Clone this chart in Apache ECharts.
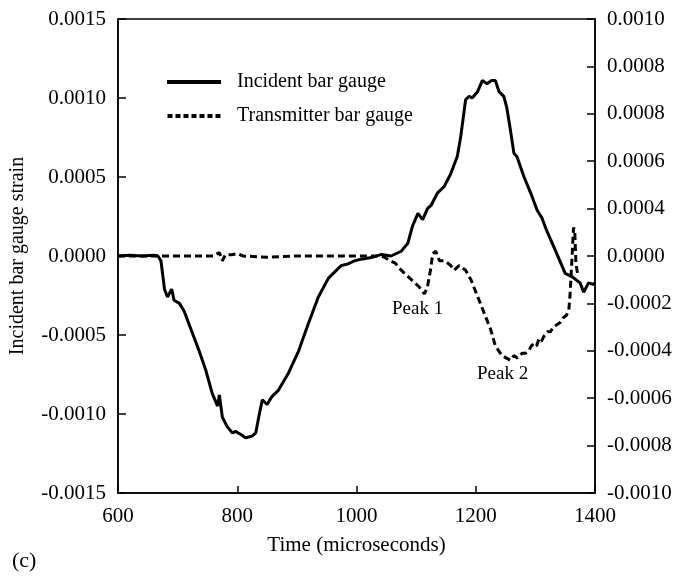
<!DOCTYPE html>
<html>
<head>
<meta charset="utf-8">
<script src="https://cdn.jsdelivr.net/npm/echarts@6/dist/echarts.min.js"></script>
<style>html,body{margin:0;padding:0;background:#fff}#c{width:676px;height:576px}</style>
</head>
<body>
<div id="c"></div>
<script>
// Incident bar gauge (left axis)
const incidentTime = [600,620,640,660,667,672,678,683,690,694,703,711,725,736,747,758,767,770,775,783,792,797,806,814,825,831,836,842,850,858,869,886,903,919,936,953,969,975,986,997,1008,1025,1042,1058,1075,1086,1094,1103,1111,1119,1125,1136,1147,1158,1169,1175,1183,1189,1194,1203,1211,1219,1226,1233,1239,1247,1252,1258,1264,1269,1281,1292,1303,1311,1319,1333,1350,1361,1375,1381,1389,1397,1400];
const incidentStrain = [0,0.000005,0,0.000005,0,-0.00003,-0.00021,-0.00026,-0.00021,-0.00028,-0.0003,-0.00035,-0.00049,-0.0006,-0.00072,-0.00087,-0.00095,-0.00088,-0.00102,-0.00108,-0.00112,-0.00111,-0.00113,-0.00115,-0.00114,-0.00112,-0.00102,-0.00091,-0.00094,-0.00089,-0.00085,-0.00074,-0.0006,-0.00043,-0.00026,-0.00014,-0.00008,-0.00006,-0.00005,-0.00003,-0.00002,-0.00001,0.00001,0,0.00003,0.00008,0.00019,0.00027,0.00023,0.0003,0.00032,0.0004,0.00044,0.00052,0.00063,0.00076,0.00099,0.00101,0.001,0.00104,0.00111,0.00109,0.00111,0.00111,0.00104,0.00101,0.00094,0.0008,0.00065,0.00063,0.0005,0.0004,0.00029,0.00024,0.00016,0.00004,-0.00011,-0.00013,-0.00017,-0.00023,-0.00017,-0.00018,-0.00017];
// Transmitter bar gauge (right axis)
const transTime = [600,700,760,770,775,780,790,800,810,850,900,950,1000,1040,1047,1056,1065,1075,1092,1105,1114,1119,1124,1128,1133,1139,1147,1153,1158,1164,1172,1183,1192,1203,1214,1225,1233,1244,1258,1264,1270,1278,1284,1289,1293,1297,1302,1306,1310,1314,1320,1325,1330,1336,1342,1347,1352,1356,1358,1361,1364,1366,1368,1371];
const transStrain = [0,0,0,0.000015,-0.00002,0.000005,0.000005,0.00001,0,-0.000005,0,0,0,0,-0.000005,-0.00002,-0.00003,-0.00006,-0.0001,-0.00013,-0.00016,-0.00013,-0.00006,0.00001,0.00002,-0.00002,-0.00002,-0.00003,-0.00004,-0.00006,-0.00004,-0.00006,-0.0001,-0.00017,-0.00024,-0.00031,-0.00038,-0.00042,-0.00044,-0.00042,-0.00043,-0.00041,-0.00041,-0.0004,-0.00038,-0.00037,-0.00038,-0.00035,-0.00036,-0.00034,-0.00032,-0.00032,-0.0003,-0.00029,-0.00028,-0.00026,-0.00025,-0.00023,-0.00017,-0.00003,0.00012,0.00011,-0.00003,-0.00008];
// Right axis tick labels, bottom to top (as printed in the figure)
const rightTickLabels = ["-0.0010","-0.0008","-0.0006","-0.0004","-0.0002","0.0000","0.0004","0.0006","0.0008","0.0008","0.0010"];
const seriesNames = ["Incident bar gauge","Transmitter bar gauge"];

const FONT = "'Liberation Serif','Times New Roman',serif";
const solidIcon = 'path://M0,0h54v4h-54z';
const dashIcon = 'path://M0,0h5v4h-5zM8,0h5v4h-5zM16,0h5v4h-5zM24,0h5v4h-5zM32,0h5v4h-5zM40,0h5v4h-5zM48,0h5v4h-5z';
const chart = echarts.init(document.getElementById('c'));
chart.setOption({
  animation:false,
  backgroundColor:'#fff',
  grid:{left:115,right:81,top:19,bottom:83,show:true,borderColor:'#000',borderWidth:1.5},
  legend:{
    orient:'vertical',left:162,top:67,itemWidth:54,itemHeight:4,itemGap:14,
    textStyle:{fontFamily:FONT,fontSize:20,color:'#000',padding:[0,0,0,11]},
    data:[{name:seriesNames[0],icon:solidIcon},{name:seriesNames[1],icon:dashIcon}]
  },
  xAxis:{
    type:'value',min:600,max:1400,interval:200,
    name:'Time (microseconds)',nameLocation:'middle',nameGap:42,
    nameTextStyle:{fontFamily:FONT,fontSize:21,color:'#000'},
    axisLine:{onZero:false,lineStyle:{color:'#000',width:1.5}},
    axisTick:{inside:true,length:7,lineStyle:{color:'#000',width:1.5}},
    axisLabel:{fontFamily:FONT,fontSize:21,color:'#000',margin:13,formatter:v=>String(v),showMinLabel:true,showMaxLabel:true},
    splitLine:{show:false}
  },
  yAxis:[{
    type:'value',min:-0.0015,max:0.0015,interval:0.0005,
    name:'Incident bar gauge strain',nameLocation:'middle',nameGap:90,nameRotate:90,
    nameTextStyle:{fontFamily:FONT,fontSize:20,color:'#000'},
    axisLine:{show:true,onZero:false,lineStyle:{color:'#000',width:1.5}},
    axisTick:{inside:true,length:8,lineStyle:{color:'#000',width:1.5}},
    axisLabel:{fontFamily:FONT,fontSize:21,color:'#000',margin:12,formatter:v=>(Math.abs(v)<1e-12?0:v).toFixed(4)},
    splitLine:{show:false}
  },{
    type:'value',min:-0.001,max:0.001,interval:0.0002,position:'right',
    axisLine:{show:true,onZero:false,lineStyle:{color:'#000',width:1.5}},
    axisTick:{inside:true,length:8,lineStyle:{color:'#000',width:1.5}},
    axisLabel:{fontFamily:FONT,fontSize:21,color:'#000',margin:12,
      formatter:v=>rightTickLabels[Math.round((v+0.001)/0.0002)]},
    splitLine:{show:false}
  }],
  series:[{
    name:seriesNames[0],type:'line',yAxisIndex:0,symbol:'none',
    lineStyle:{color:'#000',width:3,type:'solid'},itemStyle:{color:'#000'},
    data:incidentTime.map((t,i)=>[t,incidentStrain[i]])
  },{
    name:seriesNames[1],type:'line',yAxisIndex:1,symbol:'none',
    lineStyle:{color:'#000',width:3,type:[7,4]},itemStyle:{color:'#000'},
    data:transTime.map((t,i)=>[t,transStrain[i]])
  }],
  graphic:[
    {type:'text',left:392,top:300,style:{text:'Peak 1',font:'19px '+FONT,fill:'#000'}},
    {type:'text',left:477,top:365,style:{text:'Peak 2',font:'19px '+FONT,fill:'#000'}},
    {type:'text',left:12,top:550,style:{text:'(c)',font:'22px '+FONT,fill:'#000'}}
  ]
});
</script>
</body>
</html>
